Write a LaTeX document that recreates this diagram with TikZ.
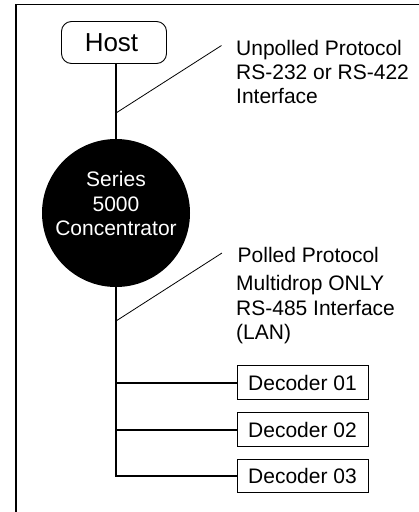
\documentclass[tikz,border=0pt]{standalone}
\usepackage{fontspec}
\setmainfont{Liberation Sans}
\begin{document}
\begin{tikzpicture}[x=1pt,y=-1pt,
  frame/.style={line width=1.3pt},
  bus/.style={line width=2pt},
  thinline/.style={line width=0.8pt},
  lbl/.style={anchor=base west,inner sep=0pt,font=\fontsize{21}{24}\selectfont},
  ctext/.style={anchor=base,inner sep=0pt,text=white,font=\fontsize{21}{24}\selectfont},
  hostbox/.style={draw,line width=0.9pt,rounded corners=10pt,minimum width=105pt,minimum height=42pt,inner sep=0pt,font=\fontsize{26}{30}\selectfont},
  decbox/.style={draw,line width=1pt,minimum width=131pt,minimum height=33.5pt,inner sep=0pt,font=\fontsize{21}{24}\selectfont}]
\useasboundingbox (0,0) rectangle (419,512);
\draw[frame] (16,512) -- (16,4.5) -- (419,4.5);
% nodes
\node[hostbox] (host) at (114,42.5) {Host\hspace*{5pt}};
\node[circle,fill=black,minimum size=148pt,inner sep=0pt] (conc) at (116,213) {};
\node[ctext] (s1) at (116,186.5) {Series};
\node[ctext] (s2) at (116,211) {5000};
\node[ctext] (s3) at (116,235) {Concentrator};
\node[decbox] (d1) at (302.5,382.5) {Decoder 01};
\node[decbox] (d2) at (302.5,429.5) {Decoder 02};
\node[decbox] (d3) at (302.5,476) {Decoder 03};
% labels
\node[lbl] (u1) at (236,55) {Unpolled Protocol};
\node[lbl] (u2) at (236,79) {RS-232 or RS-422};
\node[lbl] (u3) at (236,103) {Interface};
\node[lbl] (p1) at (237.5,262) {Polled Protocol};
\node[lbl] (p2) at (236,290) {Multidrop ONLY};
\node[lbl] (p3) at (236,315) {RS-485 Interface};
\node[lbl] (p4) at (236,339) {(LAN)};
% connectors
\draw[bus] (conc.north) -- (conc.north |- host.south);
\draw[bus] (conc.south) -- (conc.south |- d3.west) -- (d3.west);
\draw[bus] (conc.south |- d1.west) -- (d1.west);
\draw[bus] (conc.south |- d2.west) -- (d2.west);
\coordinate (j1) at (116,113);
\coordinate (t1) at (221.5,45.5);
\coordinate (j2) at (116,321);
\coordinate (t2) at (222,253);
\draw[thinline] (j1) -- (t1);
\draw[thinline] (j2) -- (t2);
\end{tikzpicture}
\end{document}
